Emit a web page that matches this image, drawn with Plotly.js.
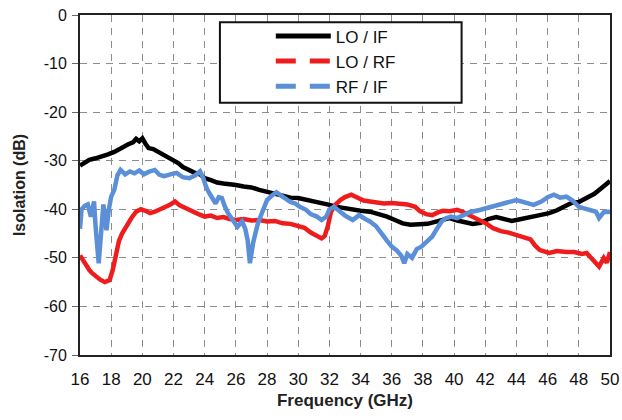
<!DOCTYPE html>
<html>
<head>
<meta charset="utf-8">
<script src="https://cdn.plot.ly/plotly-3.0.1.min.js"></script>
<style>html,body{margin:0;padding:0;background:#fff;}#chart{width:622px;height:420px;}</style>
</head>
<body>
<div id="chart"></div>
<script>
// LO / IF (black)
const loIfX = [16.0,16.3,16.6,17.0,17.4,17.8,18.2,18.5,18.8,19.1,19.4,19.6,19.8,20.0,20.2,20.4,20.7,21.0,21.3,21.6,22.0,22.3,22.6,23.0,23.3,23.7,24.0,24.4,24.8,25.2,25.6,26.0,26.5,27.0,27.5,28.0,28.5,29.0,29.5,30.0,30.5,31.0,31.5,32.0,32.5,33.0,33.5,34.0,34.6,35.2,35.7,36.2,36.7,37.2,37.8,38.3,38.9,39.4,39.7,40.2,40.8,41.2,41.7,42.2,42.7,43.2,43.7,44.0,44.5,45.0,45.5,46.1,46.6,47.2,47.6,48.0,48.5,49.0,49.5,50.0];
const loIfY = [-31,-30.5,-29.8,-29.5,-29.2,-28.7,-28.2,-27.6,-27.0,-26.6,-26.2,-25.5,-26.0,-25.4,-26.5,-27.4,-27.6,-28.1,-28.6,-29.2,-30.0,-30.5,-31.3,-32.0,-32.4,-32.8,-33.6,-34.0,-34.5,-34.7,-34.8,-35.0,-35.3,-35.5,-36.0,-36.4,-36.9,-37.4,-37.6,-37.7,-38.0,-38.4,-38.6,-39.1,-39.5,-39.8,-40.1,-40.3,-40.5,-41.0,-41.5,-42.2,-42.9,-43.2,-43.2,-43.0,-42.5,-42.2,-41.8,-42.3,-42.8,-43.0,-42.8,-42.0,-41.6,-42.0,-42.4,-42.2,-41.8,-41.4,-41.2,-40.8,-40.2,-39.2,-38.6,-38.5,-37.7,-36.8,-35.5,-34.2];

// LO / RF (red)
const loRfX = [16.0,16.2,16.4,16.6,16.8,17.0,17.3,17.6,17.9,18.1,18.3,18.5,18.7,19.0,19.3,19.6,19.9,20.2,20.5,20.8,21.1,21.5,21.8,22.1,22.4,22.8,23.2,23.6,24.0,24.4,24.8,25.2,25.6,26.0,26.5,27.0,27.5,28.0,28.5,29.0,29.5,30.0,30.4,30.8,31.2,31.5,31.7,31.9,32.1,32.4,32.7,33.0,33.4,33.8,34.2,34.6,35.0,35.5,36.0,36.5,37.0,37.5,37.8,38.2,38.6,39.0,39.3,39.7,40.2,40.6,41.0,41.4,41.7,42.1,42.5,43.0,43.5,44.0,44.5,44.9,45.2,45.5,46.1,46.6,47.2,47.7,48.2,48.5,48.9,49.3,49.6,49.8,50.0];
const loRfY = [-49.5,-50.5,-51.8,-52.5,-53.2,-53.8,-54.5,-55.0,-54.6,-52.5,-49.0,-46.5,-45.0,-43.2,-41.8,-40.5,-40.0,-40.3,-40.8,-40.5,-40.1,-39.5,-39.0,-38.4,-39.2,-39.8,-40.5,-41.0,-41.5,-41.3,-41.8,-41.6,-42.0,-42.2,-42.0,-42.3,-42.2,-42.5,-42.4,-42.9,-43.0,-43.5,-43.8,-44.8,-45.5,-46.0,-45.5,-43.5,-40.5,-39.0,-38.1,-37.5,-37.0,-37.5,-38.2,-38.4,-38.6,-38.8,-38.7,-38.8,-39.0,-39.5,-40.4,-41.0,-41.2,-40.6,-40.3,-40.4,-40.1,-40.6,-41.2,-41.8,-42.2,-43.0,-43.9,-44.5,-44.8,-45.3,-45.6,-46.2,-47.5,-48.4,-49.0,-48.6,-48.8,-48.8,-49.2,-49.0,-50.4,-51.8,-50.0,-51.0,-48.8];

// RF / IF (blue)
const rfIfX = [16.0,16.1,16.3,16.5,16.7,16.9,17.0,17.1,17.2,17.35,17.5,17.6,17.7,17.85,18.0,18.2,18.4,18.6,18.9,19.2,19.5,19.8,20.1,20.4,20.8,21.1,21.4,21.8,22.2,22.6,23.0,23.4,23.7,23.9,24.1,24.3,24.5,24.7,24.9,25.1,25.3,25.5,25.8,26.1,26.4,26.6,26.75,26.9,27.1,27.4,27.7,28.0,28.3,28.6,28.9,29.2,29.5,29.8,30.1,30.5,30.8,31.2,31.5,31.8,32.0,32.3,32.7,33.0,33.5,33.9,34.3,34.6,35.0,35.3,35.7,36.0,36.3,36.6,36.8,37.0,37.3,37.6,37.9,38.3,38.6,38.9,39.2,39.5,39.8,40.2,40.6,41.0,41.7,42.3,42.8,43.4,44.0,44.5,45.1,45.6,46.0,46.4,46.8,47.2,47.6,48.0,48.4,48.8,49.1,49.3,49.6,50.0];
const rfIfY = [-44.0,-40.0,-39.3,-39.0,-41.5,-38.4,-43.5,-47.7,-51.1,-45.0,-39.0,-41.5,-44.3,-40.0,-37.4,-36.0,-33.0,-31.9,-32.8,-32.2,-32.6,-32.0,-32.8,-32.3,-31.9,-32.9,-33.2,-32.8,-32.5,-33.4,-33.6,-33.0,-32.2,-33.5,-35.5,-36.7,-38.0,-38.8,-37.5,-37.7,-39.5,-40.8,-42.2,-43.6,-42.5,-44.0,-46.3,-51.1,-47.0,-43.0,-40.5,-38.1,-37.2,-36.5,-37.2,-37.8,-38.5,-38.8,-39.5,-40.1,-41.0,-41.5,-42.2,-41.5,-40.0,-39.5,-40.5,-41.3,-42.2,-41.2,-42.0,-42.5,-43.5,-44.9,-46.5,-47.7,-48.4,-49.5,-51.1,-49.2,-50.0,-48.2,-47.7,-46.5,-45.6,-44.0,-42.5,-41.8,-41.5,-41.8,-41.2,-40.6,-40.1,-39.5,-39.1,-38.6,-38.1,-38.6,-39.1,-38.4,-37.5,-37.0,-37.6,-37.4,-38.2,-39.5,-39.8,-40.1,-40.5,-41.8,-40.6,-40.5];

const seriesNames = ['LO / IF', 'LO / RF', 'RF / IF'];
const xTicks = [16,18,20,22,24,26,28,30,32,34,36,38,40,42,44,46,48,50];
const yTicks = [0,-10,-20,-30,-40,-50,-60,-70];

const cBlack = '#000000', cRed = '#ee1c1c', cBlue = '#5b8fd8';
const font = 'Liberation Sans, Arial, sans-serif';

const traces = [
  {x: loIfX, y: loIfY, mode: 'lines', line: {color: cBlack, width: 4.5}, showlegend: false, hoverinfo: 'skip'},
  {x: loRfX, y: loRfY, mode: 'lines', line: {color: cRed, width: 4.5}, showlegend: false, hoverinfo: 'skip'},
  {x: rfIfX, y: rfIfY, mode: 'lines', line: {color: cBlue, width: 4.5}, showlegend: false, hoverinfo: 'skip'},
  // legend-only entries
  {x: [null], y: [null], mode: 'lines', name: seriesNames[0], line: {color: cBlack, width: 5}},
  {x: [null], y: [null], mode: 'lines', name: seriesNames[1], line: {color: cRed, width: 5, dash: '20px,14px'}},
  {x: [null], y: [null], mode: 'lines', name: seriesNames[2], line: {color: cBlue, width: 5, dash: '20px,14px'}}
];

const layout = {
  width: 622, height: 420,
  margin: {l: 80, r: 12, t: 15, b: 65},
  paper_bgcolor: '#ffffff', plot_bgcolor: '#ffffff',
  font: {family: font, size: 15, color: '#000'},
  showlegend: true,
  xaxis: {
    range: [16, 50], tickvals: xTicks, ticktext: xTicks.map(String),
    showgrid: true, gridcolor: '#8c8c8c', gridwidth: 1, griddash: '7px,6px',
    showline: true, linecolor: '#222', linewidth: 2, mirror: true,
    ticks: '', zeroline: false, ticklabelstandoff: 8,
    tickfont: {family: font, size: 17, color: '#111'},
    title: {text: '<b>Frequency (GHz)</b>', font: {family: font, size: 17, color: '#222'}, standoff: 6}
  },
  yaxis: {
    range: [-70, 0], tickvals: yTicks, ticktext: yTicks.map(String),
    showgrid: true, gridcolor: '#8c8c8c', gridwidth: 1, griddash: '7px,6px',
    showline: true, linecolor: '#222', linewidth: 2, mirror: true,
    ticks: 'outside', ticklen: 6, tickcolor: '#666', zeroline: false, ticklabelstandoff: 2,
    tickfont: {family: font, size: 16, color: '#111'},
    title: {text: '<b>Isolation (dB)</b>', font: {family: font, size: 16, color: '#222'}, standoff: 14}
  },
  shapes: [
    {type: 'rect', xref: 'paper', yref: 'paper', x0: 0.264, x1: 0.72, y0: 0.742, y1: 0.979,
     fillcolor: '#ffffff', line: {color: '#111', width: 2}, layer: 'above'}
  ],
  legend: {
    x: 0.36, y: 0.99, xanchor: 'left', yanchor: 'top',
    bgcolor: 'rgba(255,255,255,0)', borderwidth: 0,
    font: {family: font, size: 17, color: '#111'},
    itemwidth: 55, tracegroupgap: 0
  }
};

Plotly.newPlot('chart', traces, layout, {staticPlot: true, displayModeBar: false});
</script>
</body>
</html>
